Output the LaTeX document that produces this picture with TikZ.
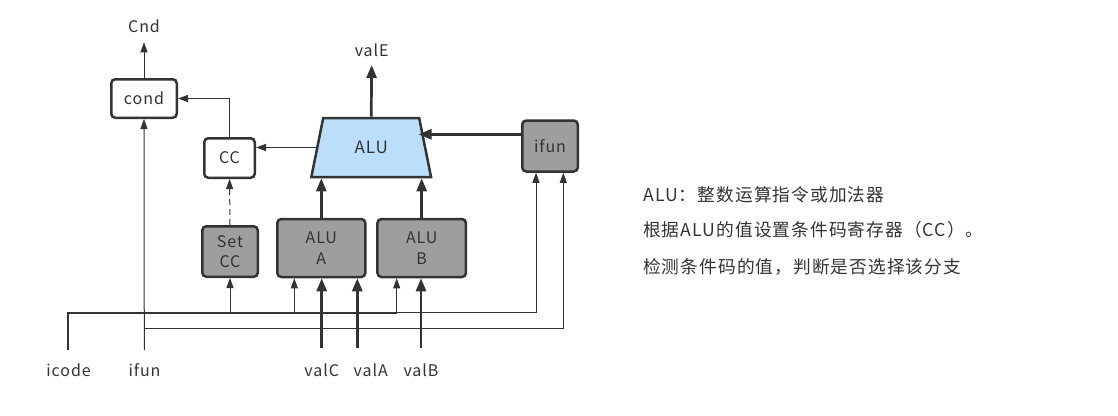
\documentclass[tikz,border=0pt]{standalone}
\usepackage{fontspec}
\setmainfont{Noto Sans CJK SC}[LetterSpace=6]
\usetikzlibrary{arrows.meta,shapes.geometric}

\definecolor{linegray}{HTML}{333333}
\definecolor{boxgray}{HTML}{9E9E9E}
\definecolor{alublue}{HTML}{BBDEFB}

\tikzset{
  unit/.style={draw=linegray, line width=2.5pt, rounded corners=4pt, text=linegray,
    align=center, inner sep=0pt},
  whitebox/.style={unit, fill=white},
  graybox/.style={unit, fill=boxgray},
  bus/.style={draw=linegray, line width=2.7pt, -{Triangle[length=13pt,width=10pt]}},
  wire/.style={draw=linegray, line width=1pt, -{Triangle[length=10pt,width=7pt]}},
  lbl/.style={text=linegray, inner sep=0pt},
  note/.style={text=linegray, anchor=west, inner sep=0pt, font=\fontsize{17.7}{20}\selectfont},
}

\begin{document}
\begin{tikzpicture}[x=1pt, y=-1pt, font=\fontsize{16}{20.5}\selectfont]
  \useasboundingbox (0,0) rectangle (1118,415);

  % Units
  \node[whitebox, minimum width=65.5pt, minimum height=38.5pt] (cond) at (144,98.5) {cond};
  \node[whitebox, minimum width=50.5pt, minimum height=39.5pt] (cc) at (229.5,158) {CC};
  \node[graybox, minimum width=55.5pt, minimum height=50.5pt] (setcc) at (230,251.5) {Set\\CC};
  \node[graybox, minimum width=88pt, minimum height=58pt] (aluA) at (321.3,248) {ALU\\A};
  \node[graybox, minimum width=88.5pt, minimum height=58pt] (aluB) at (421.7,248) {ALU\\B};
  \node[graybox, minimum width=55.5pt, minimum height=51pt] (ifunU) at (550,146) {ifun};
  \node[trapezium, draw=linegray, line width=2.5pt, fill=alublue, text=linegray,
        trapezium left angle=72, trapezium right angle=72, trapezium stretches=true,
        minimum width=120pt, minimum height=59pt, inner sep=0pt,
        font=\fontsize{17}{20}\selectfont] (alu) at (371.2,147.5) {ALU};

  % Labels
  \node[lbl] (cnd) at (144,26) {Cnd};
  \node[lbl] (valE) at (371.7,50) {valE};
  \node[lbl] (icode) at (68.5,370) {icode};
  \node[lbl] (ifun) at (144.5,370) {ifun};
  \node[lbl] (valC) at (321.7,370) {valC};
  \node[lbl] (valA) at (370.7,370) {valA};
  \node[lbl] (valB) at (421,370) {valB};

  % Free ends
  \coordinate (cndOut) at (144,42.3);
  \coordinate (valEOut) at (371.7,65);
  \coordinate (icodeIn) at (67.7,350);
  \coordinate (ifunIn) at (144.3,350);
  \coordinate (in-valC) at (321.7,348.3);
  \coordinate (in-valA) at (357.3,348.3);
  \coordinate (in-valB) at (421,348.3);
  \coordinate (icodeBus) at (67.7,312.7);
  \coordinate (icodeEnd) at (396.7,312.7);
  \coordinate (ifunBus) at (144.3,328.5);
  \coordinate (xA) at (294.3,0);
  \coordinate (xI1) at (536,0);
  \coordinate (xI2) at (563.3,0);
  \coordinate (aluIn) at (418.5,134.3);

  % Outputs
  \draw[bus] (alu.north) -- (valEOut);
  \draw[wire] (cond.north) -- (cndOut);
  \draw[wire] (cc.north) |- (cond.east);
  \draw[wire] (alu.west) -- (cc.east |- alu.west);
  \draw[wire, dash pattern=on 6pt off 4pt] (setcc.north) -- (cc.south);
  \draw[bus] (aluA.north) -- (aluA.north |- alu.south);
  \draw[bus] (aluB.north) -- (aluB.north |- alu.south);
  \draw[bus] (ifunU.west |- aluIn) -- (aluIn);

  % Operands
  \foreach \v/\b in {valC/aluA, valA/aluA, valB/aluB}
    \draw[bus] (in-\v) -- (\b.south -| in-\v);

  % icode
  \draw[draw=linegray, line width=1.7pt] (icodeIn) -- (icodeBus) -- (icodeEnd);
  \draw[wire] (setcc.south |- icodeBus) -- (setcc.south);
  \draw[wire] (xA |- icodeBus) -- (aluA.south -| xA);
  \draw[wire] (icodeEnd) -- (aluB.south -| icodeEnd);
  \draw[wire] (icodeEnd) -| (ifunU.south -| xI1);

  % ifun
  \draw[wire] (ifunIn) -- (cond.south);
  \draw[wire] (ifunBus) -| (ifunU.south -| xI2);

  % Notes
  \node[note] (n1) at (643,195) {ALU：整数运算指令或加法器};
  \node[note] (n2) at (643,230) {根据ALU的值设置条件码寄存器（CC）。};
  \node[note] (n3) at (643,267) {检测条件码的值，判断是否选择该分支};
\end{tikzpicture}
\end{document}
